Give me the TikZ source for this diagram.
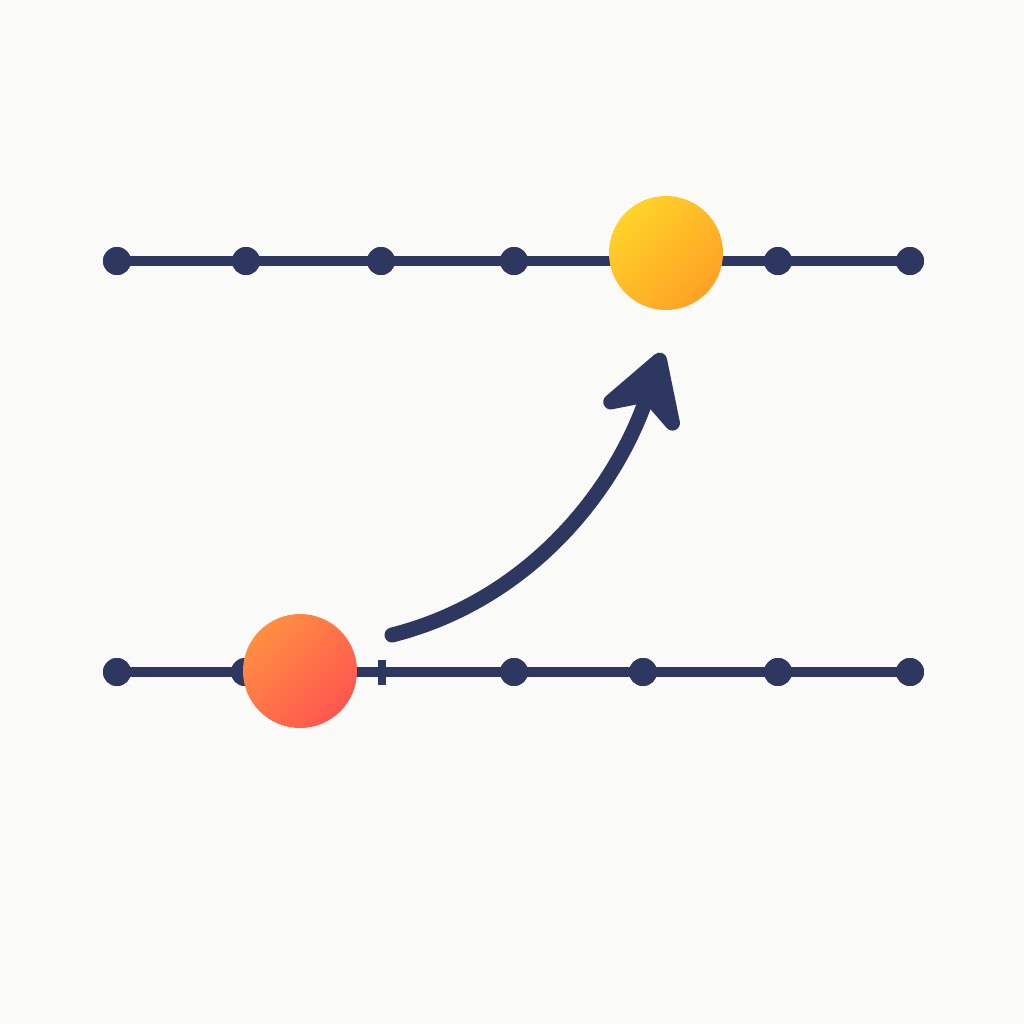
\documentclass[tikz,border=0pt]{standalone}
\usepackage{tikz}
\usetikzlibrary{arrows.meta,positioning,calc}
\definecolor{navy}{HTML}{2E3760}
\definecolor{paper}{HTML}{FAFAF8}
\definecolor{sunA}{HTML}{FFD22A}
\definecolor{sunB}{HTML}{FFA125}
\definecolor{emberA}{HTML}{FF8E42}
\definecolor{emberB}{HTML}{FF5650}

\begin{document}
\begin{tikzpicture}[
    track/.style={draw=navy, line width=1mm},
    knot/.style={circle, fill=navy, inner sep=0pt, minimum size=2.8mm},
    notch/.style={rectangle, fill=navy, inner sep=0pt, minimum width=0.8mm, minimum height=2.5mm},
    ball/.style={circle, inner sep=0pt, minimum size=11.4mm},
    hop/.style={-{Stealth[length=9mm, width=10.5mm, inset=3mm, round]}, navy, line width=1.5mm, line cap=round}
]
    \fill[paper] (0,0) rectangle (10.24,-10.24);
    % upper track
    \foreach \n/\x in {1/1.17, 2/2.46, 3/3.81, 4/5.14, 5/7.78, 6/9.10}
        \node[knot] (t\n) at (\x,-2.61) {};
    \draw[track] (t1.center) -- (t6.center);
    \foreach \n in {1,...,6}
        \node[knot] at (t\n) {};
    % lower track
    \foreach \n/\x in {1/1.17, 2/2.45, 4/5.14, 5/6.43, 6/7.78, 7/9.10}
        \node[knot] (b\n) at (\x,-6.72) {};
    \draw[track] (b1.center) -- (b7.center);
    \foreach \n in {1,2,4,5,6,7}
        \node[knot] at (b\n) {};
    \node[notch] (b3) at (3.82,-6.72) {};
    \node[ball, top color=sunA, bottom color=sunB, shading angle=45] (goal) at (6.66,-2.53) {};
    \node[ball, top color=emberA, bottom color=emberB, shading angle=45] (start) at (3.00,-6.71) {};
    \coordinate (from) at (3.92,-6.35);
    \coordinate (to) at (6.62,-3.53);
    \draw[hop] (from) .. controls (5.30,-6.00) and (6.15,-4.90) .. (to);
\end{tikzpicture}
\end{document}
